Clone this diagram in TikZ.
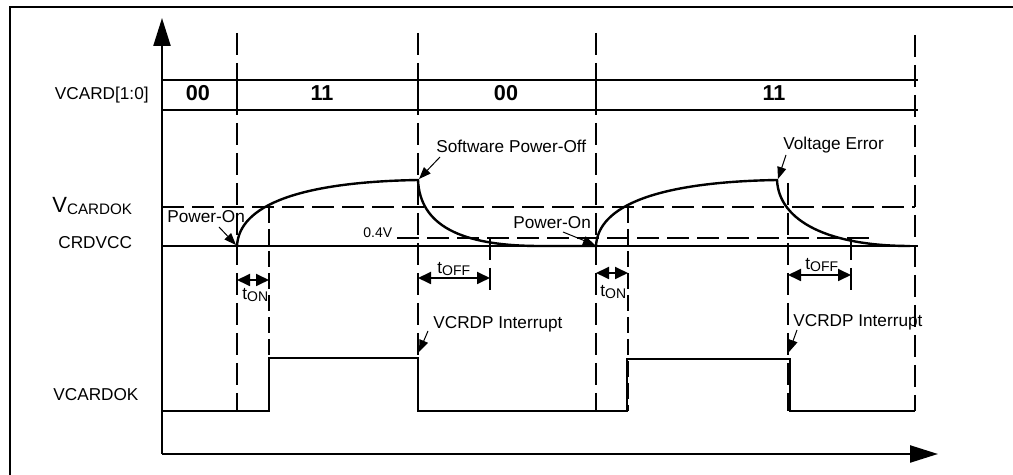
\documentclass[tikz,border=0pt]{standalone}
\usepackage{fontspec}
\setmainfont{Liberation Sans}
\usetikzlibrary{arrows.meta}
\newcommand\lowsub[2][7]{\raisebox{-1pt}{\fontsize{#1}{8}\selectfont #2}}
\begin{document}
\begin{tikzpicture}[x=0.5pt,y=-0.5pt,
  solidline/.style={line width=1.15pt},
  dashline/.style={line width=1.15pt, dash pattern=on 11pt off 4pt},
  shortdash/.style={line width=1.15pt, dash pattern=on 8pt off 3pt},
  wave/.style={line width=1.2pt},
  lbl/.style={font=\fontsize{8.6}{10}\selectfont, inner sep=0pt},
  small/.style={font=\fontsize{7}{8}\selectfont, inner sep=0pt},
  bit/.style={font=\fontsize{10.8}{12}\selectfont\bfseries, inner sep=0pt, anchor=base},
  ann/.style={line width=0.5pt, -{Triangle[length=6pt,width=4.5pt]}},
  span/.style={line width=0.9pt, {Triangle[length=6.5pt,width=6pt]}-{Triangle[length=6.5pt,width=6pt]}},
  axis/.style={line width=1.15pt, -{Triangle[length=14pt,width=8.5pt]}}]
\useasboundingbox (0,0) rectangle (1013,475);
% frame
\draw[solidline] (10,475) -- (10,7) -- (1013,7);
% axes
\coordinate (org) at (162,454);
\coordinate (ytop) at (162,18);
\coordinate (xend) at (938,454);
\draw[axis] (org) -- (ytop);
\draw[axis] (org) -- (xend);
% long vertical dashed lines
\draw[dashline] (237,33) -- (237,411);
\draw[dashline] (418,33) -- (418,411);
\draw[dashline] (596,33) -- (596,411);
\draw[dashline] (915,35) -- (915,411);
% short dashed lines
\draw[shortdash] (269,207) -- (269,411);
\draw[shortdash] (628,207) -- (628,411);
\draw[dashline] (788,183) -- (788,411);
\draw[dashline] (490,238) -- (490,290);
\draw[dashline] (851,238) -- (851,290);
% VCARD row
\draw[solidline] (162,80) -- (918,80);
\draw[solidline] (162,110) -- (918,110);
\draw[solidline] (237,80) -- (237,110);
\draw[solidline] (418,80) -- (418,110);
\draw[solidline] (596,80) -- (596,110);
\node[bit] (b1) at (198,101) {00};
\node[bit] (b2) at (322,101) {11};
\node[bit] (b3) at (506,101) {00};
\node[bit] (b4) at (774,101) {11};
% thresholds
\draw[dashline] (162,207) -- (915,207);
\draw[dashline] (397,238) -- (873,238);
\draw[solidline] (162,246) -- (918,246);
% CRDVCC waveform
\draw[wave] (237,246) .. controls (239,205) and (300,182) .. (418,180)
  .. controls (420,225) and (460,246) .. (540,246) -- (596,246)
  .. controls (598,205) and (659,182) .. (777,180)
  .. controls (779,222) and (830,246) .. (910,246);
% VCARDOK waveform
\draw[wave] (162,411) -- (269,411) -- (269,358) -- (418,358) -- (418,411)
  -- (627,411) -- (627,359) -- (790,359) -- (790,411) -- (915,411);
% row labels
\node[lbl, anchor=base east] (lvcard) at (149,100) {VCARD[1:0]};
\node[lbl, anchor=base west] (lvok) at (52,213) {\fontsize{11}{12}\selectfont V\lowsub[7.6]{CARDOK}};
\node[lbl, anchor=base west] (lcrd) at (58,249) {CRDVCC};
\node[lbl, anchor=base west] (lvcardok) at (53,401) {VCARDOK};
\node[small, anchor=base west] (l04) at (363,238) {0.4V};
% annotations
\node[lbl, anchor=base west] (pon1) at (167,223) {Power-On};
\coordinate (pon1a) at (219,227); \coordinate (pon1b) at (236,245);
\draw[ann] (pon1a) -- (pon1b);
\node[lbl, anchor=base west] (spo) at (436,153) {Software Power-Off};
\coordinate (spoa) at (440,157); \coordinate (spob) at (419,179);
\draw[ann] (spoa) -- (spob);
\node[lbl, anchor=base west] (pon2) at (513,229) {Power-On};
\coordinate (pon2a) at (563,232); \coordinate (pon2b) at (595,245);
\draw[ann] (pon2a) -- (pon2b);
\node[lbl, anchor=base west] (verr) at (783,150) {Voltage Error};
\coordinate (verra) at (786,155); \coordinate (verrb) at (778,179);
\draw[ann] (verra) -- (verrb);
\node[lbl, anchor=base west] (int1) at (433,329) {VCRDP Interrupt};
\coordinate (int1a) at (428,331); \coordinate (int1b) at (419,352);
\draw[ann] (int1a) -- (int1b);
\node[lbl, anchor=base west] (int2) at (793,327) {VCRDP Interrupt};
\coordinate (int2a) at (797,330); \coordinate (int2b) at (789,352);
\draw[ann] (int2a) -- (int2b);
% time spans
\coordinate (on1a) at (237,280); \coordinate (on1b) at (269,280);
\draw[span] (on1a) -- (on1b);
\node[lbl, anchor=base west] (ton1) at (242,300) {t\lowsub{ON}};
\coordinate (on2a) at (596,273); \coordinate (on2b) at (628,273);
\draw[span] (on2a) -- (on2b);
\node[lbl, anchor=base west] (ton2) at (600,297) {t\lowsub{ON}};
\coordinate (off1a) at (418,278); \coordinate (off1b) at (490,278);
\draw[span] (off1a) -- (off1b);
\node[lbl, anchor=base west] (toff1) at (437,274) {t\lowsub{OFF}};
\coordinate (off2a) at (788,275); \coordinate (off2b) at (851,275);
\draw[span] (off2a) -- (off2b);
\node[lbl, anchor=base west] (toff2) at (805,270) {t\lowsub{OFF}};
\end{tikzpicture}
\end{document}
